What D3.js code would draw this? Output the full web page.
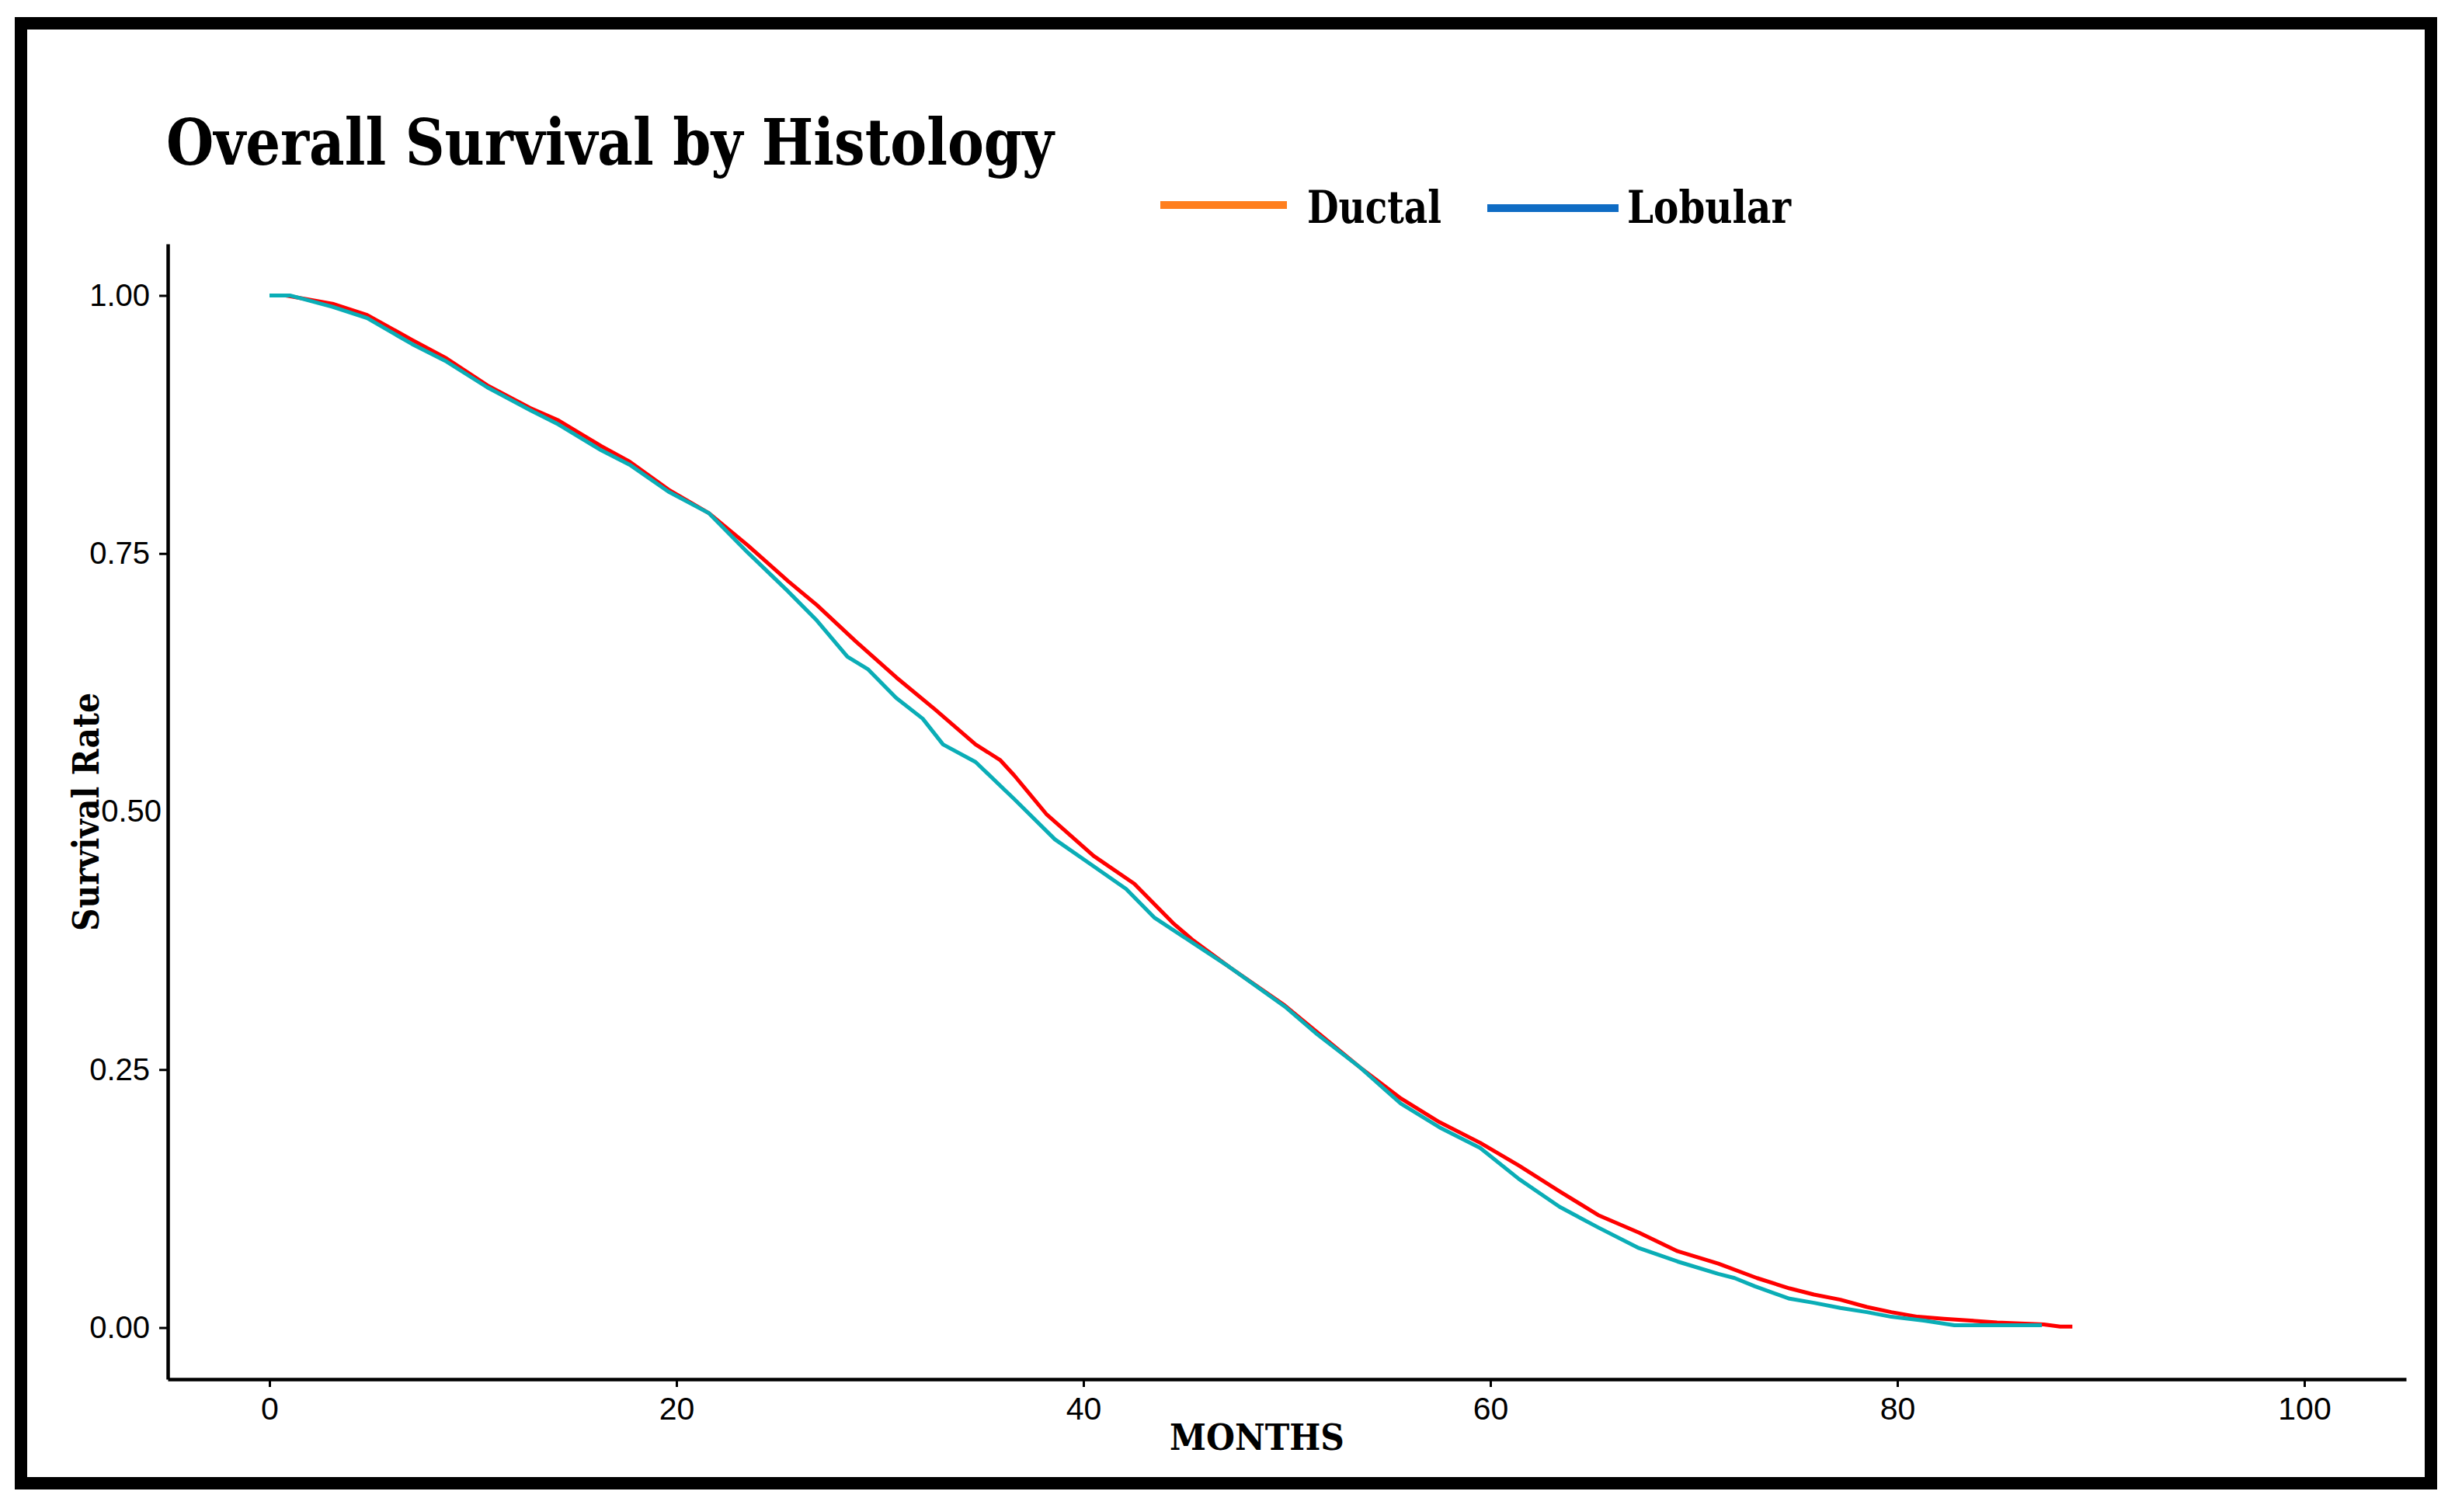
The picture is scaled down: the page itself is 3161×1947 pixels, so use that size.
<!DOCTYPE html>
<html>
<head>
<meta charset="utf-8">
<script src="https://cdn.jsdelivr.net/npm/d3@7"></script>
<style>
  body { margin: 0; background: #fff; }
</style>
</head>
<body>
<svg id="chart"></svg>
<script>
// Kaplan-Meier curves (months, survival)
const ductalMonths = [0, 0.8, 3.1, 4.8, 7.0, 8.7, 10.7, 12.8, 14.2, 16.3, 17.7, 19.6, 21.6, 23.5, 25.5, 26.9, 28.8, 30.8, 32.7, 34.7, 35.9, 36.6, 38.2, 40.5, 42.5, 44.4, 45.4, 47.2, 49.9, 51.5, 53.6, 55.6, 57.5, 59.5, 61.4, 63.4, 65.3, 67.3, 69.2, 71.2, 73.1, 74.7, 75.9, 77.2, 78.5, 79.7, 81.0, 82.3, 83.6, 84.9, 87.2, 88.0, 88.6];
const ductalSurv = [1.000, 1.000, 0.992, 0.981, 0.957, 0.939, 0.913, 0.891, 0.879, 0.854, 0.839, 0.812, 0.789, 0.758, 0.723, 0.700, 0.665, 0.630, 0.599, 0.565, 0.550, 0.535, 0.497, 0.457, 0.430, 0.392, 0.375, 0.349, 0.312, 0.286, 0.252, 0.222, 0.199, 0.179, 0.157, 0.132, 0.109, 0.092, 0.074, 0.062, 0.048, 0.038, 0.032, 0.027, 0.020, 0.015, 0.0105, 0.0085, 0.0068, 0.005, 0.003, 0.001, 0.001];

const lobularMonths = [0, 1.0, 3.1, 4.8, 7.0, 8.7, 10.7, 12.8, 14.2, 16.3, 17.7, 19.6, 21.6, 23.5, 25.5, 26.9, 28.4, 29.4, 30.8, 32.1, 33.1, 34.7, 36.6, 38.6, 40.5, 42.1, 43.5, 45.2, 47.2, 49.9, 51.5, 53.6, 55.6, 57.5, 59.5, 61.4, 63.4, 65.3, 67.3, 69.2, 71.2, 72.0, 73.0, 74.7, 75.9, 77.2, 78.5, 79.7, 81.3, 82.8, 87.1];
const lobularSurv = [1.000, 1.000, 0.989, 0.978, 0.953, 0.936, 0.911, 0.889, 0.875, 0.850, 0.836, 0.810, 0.789, 0.751, 0.713, 0.685, 0.650, 0.638, 0.610, 0.590, 0.565, 0.548, 0.512, 0.473, 0.447, 0.425, 0.397, 0.375, 0.349, 0.311, 0.284, 0.252, 0.217, 0.194, 0.174, 0.144, 0.117, 0.097, 0.077, 0.064, 0.052, 0.048, 0.040, 0.028, 0.024, 0.019, 0.015, 0.0105, 0.0068, 0.0023, 0.0023];

const xTicks = [0, 20, 40, 60, 80, 100];
const yTicks = [0, 0.25, 0.5, 0.75, 1];
const seriesNames = ['Ductal', 'Lobular'];
const legendColors = ['#ff7f1e', '#0f6cc4'];
const lineColors = ['#ff0000', '#0aadb6'];

const W = 3161, H = 1947;
const svg = d3.select('#chart').attr('width', W).attr('height', H);

svg.append('rect').attr('width', W).attr('height', H).attr('fill', '#fff');

// thick black frame
svg.append('rect')
  .attr('x', 27).attr('y', 30)
  .attr('width', 3103).attr('height', 1880)
  .attr('fill', 'none')
  .attr('stroke', '#000')
  .attr('stroke-width', 16);

const x = d3.scaleLinear().domain([-5, 105]).range([216, 3098]);
const y = d3.scaleLinear().domain([-0.05, 1.05]).range([1776, 314]);

// x axis
const xAxis = svg.append('g')
  .attr('transform', `translate(0, ${y(-0.05)})`)
  .call(d3.axisBottom(x).tickValues(xTicks).tickSize(10).tickPadding(13).tickSizeOuter(0));
xAxis.select('.domain').attr('stroke-width', 4.5);
xAxis.selectAll('.tick line').attr('stroke-width', 3);
xAxis.selectAll('.tick text')
  .attr('font-family', '"Liberation Sans", Arial, sans-serif')
  .attr('font-size', 41)
  .attr('fill', '#000');

// y axis
const yAxis = svg.append('g')
  .attr('transform', `translate(${x(-5)}, 0)`)
  .call(d3.axisLeft(y).tickValues(yTicks).tickSize(11).tickPadding(12)
    .tickFormat(d3.format('.2f')).tickSizeOuter(0));
yAxis.select('.domain').attr('stroke-width', 4.5);
yAxis.selectAll('.tick line').attr('stroke-width', 3);
yAxis.selectAll('.tick text')
  .attr('font-family', '"Liberation Sans", Arial, sans-serif')
  .attr('font-size', 40)
  .attr('fill', '#000');
// the 0.50 label sits off its place with no tick in the original
yAxis.selectAll('.tick').filter(d => d === 0.5).each(function () {
  d3.select(this).select('line').remove();
  d3.select(this).select('text').attr('x', -8);
});

// curves
const line = d3.line().x(d => x(d[0])).y(d => y(d[1]));
const curves = [
  d3.zip(ductalMonths, ductalSurv),
  d3.zip(lobularMonths, lobularSurv)
];
curves.forEach((pts, i) => {
  svg.append('path')
    .datum(pts)
    .attr('fill', 'none')
    .attr('stroke', lineColors[i])
    .attr('stroke-width', 5)
    .attr('stroke-linejoin', 'round')
    .attr('d', line);
});

const serif = '"DejaVu Serif", "Liberation Serif", serif';

// title
svg.append('text')
  .attr('x', 214).attr('y', 212)
  .attr('font-family', serif).attr('font-weight', 'bold')
  .attr('font-size', 82)
  .attr('textLength', 1143).attr('lengthAdjust', 'spacingAndGlyphs')
  .text('Overall Survival by Histology');

// legend
const legendLines = [[1494, 1657, 264], [1915, 2084, 268]];
const legendText = [[1683, 173], [2095, 211]];
seriesNames.forEach((name, i) => {
  const [x1, x2, ly] = legendLines[i];
  svg.append('line')
    .attr('x1', x1).attr('x2', x2).attr('y1', ly).attr('y2', ly)
    .attr('stroke', legendColors[i]).attr('stroke-width', 10);
  svg.append('text')
    .attr('x', legendText[i][0]).attr('y', 287)
    .attr('font-family', serif).attr('font-weight', 'bold')
    .attr('font-size', 58)
    .attr('textLength', legendText[i][1]).attr('lengthAdjust', 'spacingAndGlyphs')
    .text(name);
});

// axis titles
svg.append('text')
  .attr('x', 1506).attr('y', 1867)
  .attr('font-family', serif).attr('font-weight', 'bold')
  .attr('font-size', 47)
  .attr('textLength', 225).attr('lengthAdjust', 'spacingAndGlyphs')
  .text('MONTHS');

svg.append('text')
  .attr('transform', 'translate(127, 1046) rotate(-90)')
  .attr('x', -153).attr('y', 0)
  .attr('font-family', serif).attr('font-weight', 'bold')
  .attr('font-size', 47)
  .attr('textLength', 307).attr('lengthAdjust', 'spacingAndGlyphs')
  .text('Survival Rate');
</script>
</body>
</html>
